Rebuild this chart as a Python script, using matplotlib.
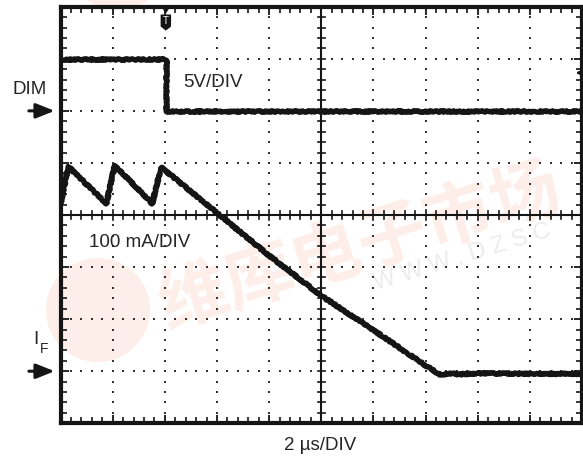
import numpy as np
import matplotlib
matplotlib.use("Agg")
import matplotlib.pyplot as plt
from matplotlib.patches import Circle, Polygon
from matplotlib.transforms import IdentityTransform

plt.rcParams['font.family'] = ['Liberation Sans', 'DejaVu Sans']

# scope settings
T_PER_DIV = 2.0        # us/div
DIM_PER_DIV = 5.0      # V/div
IF_PER_DIV = 100.0     # mA/div
DIM_GND = 6.0          # ground marker positions (divisions)
IF_GND = 1.0

# DIM channel (time in us, volts)
dim_t = [0.0, 4.04, 4.04, 20.0]
dim_v = [5.0, 5.0, 0.0, 0.0]

# LED current I_F (time in us, mA)
if_t = [0.0, 0.30, 1.76, 2.08, 3.52, 3.86, 6.0, 8.0, 10.0, 12.0,
        14.0, 14.6, 14.9, 15.3, 16.0, 18.0, 20.0]
if_ma = [322, 393, 322, 395, 322, 392, 304, 222, 145, 79,
         11, -8, -4, -6, -4, -5, -5]

ink = '#151515'
txt = '#252525'

fig = plt.figure(figsize=(5.83, 4.59), dpi=100)
fig.patch.set_facecolor('white')
ax = fig.add_axes([60.5 / 583, 1 - 423.3 / 459, 521.5 / 583, 416.6 / 459])
ax.set_facecolor('none')

# background watermark
wm = '#fdeee9'
fig.add_artist(Circle((98, 459 - 310), 52, transform=IdentityTransform(),
                      facecolor=wm, edgecolor='none', zorder=-2))
fig.add_artist(Circle((118, 459 + 42), 52, transform=IdentityTransform(),
                      facecolor=wm, edgecolor='none', zorder=-2))
fig.text(360 / 583, 1 - 248 / 459, '维库电子市场', rotation=17,
         rotation_mode='anchor', ha='center', va='center', fontsize=50,
         fontweight='bold', color=wm, family=['Noto Sans CJK SC'], zorder=-1)
fig.text(374 / 583, 1 - 284 / 459, 'W W W . D Z S C', rotation=17,
         rotation_mode='anchor', ha='left', va='center', fontsize=17,
         color='#ececec', zorder=-1)

ax.set_xlim(0, 10 * T_PER_DIV)
ax.set_ylim(0, 8)

# frame with inward ticks every 1/5 division
for s in ax.spines.values():
    s.set_linewidth(3.0)
    s.set_color(ink)
ax.set_xticks(np.arange(0, 20.01, T_PER_DIV))
ax.set_xticks(np.arange(0, 20.01, T_PER_DIV / 5), minor=True)
ax.set_yticks(np.arange(0, 8.01, 1))
ax.set_yticks(np.arange(0, 8.01, 0.2), minor=True)
ax.tick_params(which='both', direction='in', top=True, right=True,
               labelleft=False, labelbottom=False, color=ink)
ax.tick_params(which='major', length=6, width=1.3)
ax.tick_params(which='minor', length=4.5, width=1.2)

# dotted graticule
dx, dy = [], []
for k in range(1, 10):
    if k == 5:
        continue
    for yy in np.arange(0.2, 8, 0.2):
        dx.append(k * T_PER_DIV)
        dy.append(yy)
for j in range(1, 8):
    if j == 4:
        continue
    for xx in np.arange(0.4, 20, 0.4):
        dx.append(xx)
        dy.append(j)
ax.scatter(dx, dy, s=2.2, marker='s', color='#333333', linewidths=0, zorder=2)

# center crosshair with its own ticks
ax.axvline(10, color=ink, lw=1.5, zorder=2)
ax.axhline(4, color=ink, lw=1.5, zorder=2)
for yy in np.arange(0.2, 8, 0.2):
    h = 0.14 if abs(yy - round(yy)) < 1e-6 else 0.13
    ax.plot([10 - h, 10 + h], [yy, yy], color=ink, lw=1.2, zorder=2)
for xx in np.arange(0.4, 20, 0.4):
    h = 0.1 if abs(xx / 2 - round(xx / 2)) < 1e-6 else 0.075
    ax.plot([xx, xx], [4 - h, 4 + h], color=ink, lw=1.2, zorder=2)

# traces
dim_y = DIM_GND + np.array(dim_v) / DIM_PER_DIV
if_y = IF_GND + np.array(if_ma) / IF_PER_DIV
for t, y in [(dim_t, dim_y), (if_t, if_y)]:
    ln, = ax.plot(t, y, color=ink, lw=3.8, solid_joinstyle='round',
                  solid_capstyle='butt', zorder=4)
    ln.set_sketch_params(scale=0.8, length=2.5, randomness=4)

# trigger marker
trig = dim_t[1]
ax.add_patch(Polygon([(trig - 0.12, 7.96), (trig + 0.12, 7.96), (trig, 7.87)],
                     closed=True, facecolor=ink, edgecolor='none', zorder=5))
ax.add_patch(Polygon([(trig - 0.2, 7.85), (trig + 0.2, 7.85), (trig + 0.2, 7.62),
                      (trig, 7.54), (trig - 0.2, 7.62)],
                     closed=True, facecolor=ink, edgecolor='none', zorder=5))
ax.text(trig, 7.72, 'T', color='white', fontsize=7, ha='center', va='center', zorder=6)

# trigger level marker on the right
ax.annotate('', xy=(19.65, 6.73), xytext=(20.3, 6.73),
            arrowprops=dict(arrowstyle='-|>,head_length=0.6,head_width=0.3',
                            color=ink, lw=1.6, mutation_scale=10),
            annotation_clip=False, zorder=6)

# ground arrows and channel labels
for yg in (DIM_GND, IF_GND):
    ax.annotate('', xy=(-0.12, yg), xytext=(-1.32, yg),
                arrowprops=dict(arrowstyle='-|>,head_length=0.8,head_width=0.32',
                                color=ink, lw=2.2, mutation_scale=14),
                annotation_clip=False)

fig.text(30 / 583, 1 - 90 / 459, 'DIM', fontsize=13.5, color=txt,
         ha='center', va='center')
fig.text(36 / 583, 1 - 340 / 459, 'I', fontsize=13.5, color=txt,
         ha='center', va='center')
fig.text(44 / 583, 1 - 349 / 459, 'F', fontsize=10, color=txt,
         ha='center', va='center')
ax.text(2.35 * T_PER_DIV, 6.55, '5V/DIV', fontsize=13.5, color=txt,
        ha='left', va='center')
ax.text(0.55 * T_PER_DIV, 3.47, '100 mA/DIV', fontsize=13.5, color=txt,
        ha='left', va='center')
fig.text(320 / 583, 1 - 445 / 459, '2 µs/DIV', fontsize=13.5, color=txt,
         ha='center', va='center')

fig.savefig('out.png', dpi=100, facecolor='white')
